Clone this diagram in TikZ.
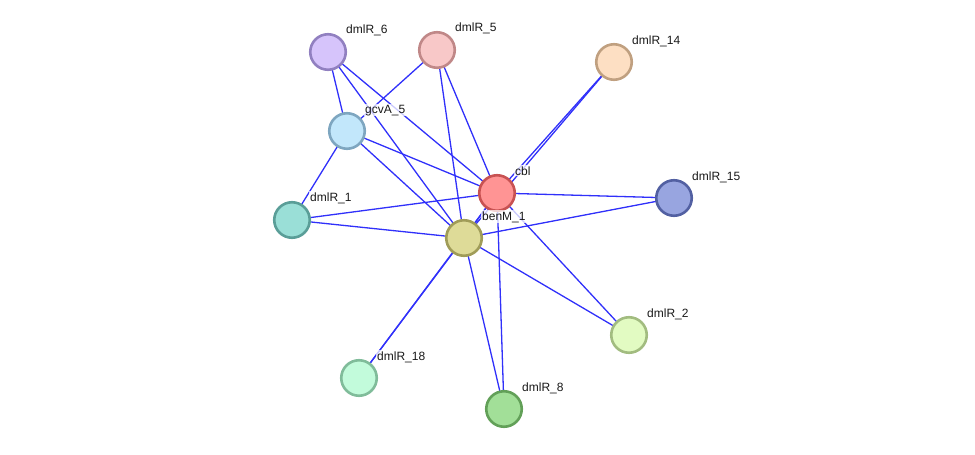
\documentclass[tikz,border=0pt]{standalone}
\usepackage{fontspec}
\setmainfont{Liberation Sans}
\usetikzlibrary{backgrounds}

\definecolor{linkblue}{RGB}{48,48,250}

\begin{document}
\begin{tikzpicture}[
  x=1pt, y=-1pt,
  prot/.style={circle, line width=2.6pt, minimum size=35.5pt, inner sep=0pt},
  protlabel/.style={anchor=base west, inner xsep=1pt, inner ysep=1pt, xshift=-1pt,
    fill=white, fill opacity=0.75, text opacity=1,
    font=\fontsize{12}{14}\selectfont, text=black!90},
  assoc/.style={line width=1.3pt, linkblue},
]

\useasboundingbox (0,0) rectangle (975,455);

%% ============ PROTEINS ============
\node[prot, draw={rgb,255:red,145;green,128;blue,192}, fill={rgb,255:red,214;green,196;blue,251}] (dmlR6)  at (328,52)  {};
\node[prot, draw={rgb,255:red,192;green,136;blue,136}, fill={rgb,255:red,248;green,200;blue,200}] (dmlR5)  at (437,50)  {};
\node[prot, draw={rgb,255:red,192;green,160;blue,128}, fill={rgb,255:red,253;green,223;blue,195}] (dmlR14) at (614,62)  {};
\node[prot, draw={rgb,255:red,126;green,166;blue,192}, fill={rgb,255:red,194;green,231;blue,251}] (gcvA5)  at (347,131) {};
\node[prot, draw={rgb,255:red,200;green,82;blue,82},   fill={rgb,255:red,255;green,148;blue,148}] (cbl)    at (497,193) {};
\node[prot, draw={rgb,255:red,82;green,96;blue,162},   fill={rgb,255:red,152;green,165;blue,224}] (dmlR15) at (674,198) {};
\node[prot, draw={rgb,255:red,90;green,158;blue,152},  fill={rgb,255:red,154;green,223;blue,215}] (dmlR1)  at (292,220) {};
\node[prot, draw={rgb,255:red,160;green,156;blue,88},  fill={rgb,255:red,222;green,219;blue,152}] (benM1)  at (464,238) {};
\node[prot, draw={rgb,255:red,162;green,188;blue,128}, fill={rgb,255:red,226;green,251;blue,194}] (dmlR2)  at (629,335) {};
\node[prot, draw={rgb,255:red,128;green,188;blue,154}, fill={rgb,255:red,194;green,251;blue,219}] (dmlR18) at (359,378) {};
\node[prot, draw={rgb,255:red,98;green,160;blue,88},   fill={rgb,255:red,162;green,223;blue,152}] (dmlR8)  at (504,409) {};

%% ---- labels ----
\node[protlabel] (ldmlR6)  at (346,33)  {dmlR\_6};
\node[protlabel] (ldmlR5)  at (455,31)  {dmlR\_5};
\node[protlabel] (ldmlR14) at (632,44)  {dmlR\_14};
\node[protlabel] (lgcvA5)  at (365,113) {gcvA\_5};
\node[protlabel] (lcbl)    at (515,175) {cbl};
\node[protlabel] (ldmlR15) at (692,180) {dmlR\_15};
\node[protlabel] (ldmlR1)  at (310,201) {dmlR\_1};
\node[protlabel] (lbenM1)  at (482,220) {benM\_1};
\node[protlabel] (ldmlR2)  at (647,317) {dmlR\_2};
\node[protlabel] (ldmlR18) at (377,360) {dmlR\_18};
\node[protlabel] (ldmlR8)  at (522,391) {dmlR\_8};

%% ============ ASSOCIATIONS ============
\begin{scope}[on background layer]
\foreach \p in {dmlR6,dmlR5,dmlR14,gcvA5,dmlR1,dmlR15,benM1,dmlR2,dmlR8,dmlR18}
  \draw[assoc] (cbl.center) -- (\p.center);
\foreach \p in {dmlR6,dmlR5,dmlR14,gcvA5,dmlR1,dmlR15,dmlR2,dmlR8,dmlR18}
  \draw[assoc] (benM1.center) -- (\p.center);
\foreach \p in {dmlR6,dmlR5,dmlR1}
  \draw[assoc] (gcvA5.center) -- (\p.center);
\end{scope}

\end{tikzpicture}
\end{document}
